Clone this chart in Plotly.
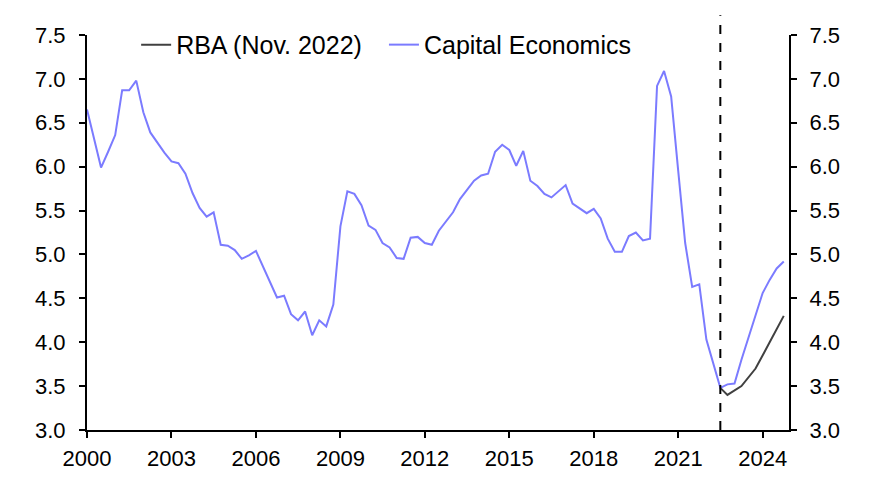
import pandas as pd
import plotly.graph_objects as go

# Capital Economics series (quarterly, 2000Q1 - 2024Q4), unemployment rate %
ce_values = [
    6.65, 6.32, 5.99, 6.17, 6.36, 6.87, 6.87, 6.98, 6.62, 6.39,
    6.27, 6.16, 6.06, 6.04, 5.92, 5.70, 5.53, 5.43, 5.48, 5.11,
    5.10, 5.05, 4.95, 4.99, 5.04, 4.86, 4.69, 4.51, 4.53, 4.32,
    4.25, 4.35, 4.08, 4.25, 4.18, 4.43, 5.32, 5.72, 5.69, 5.56,
    5.33, 5.28, 5.13, 5.08, 4.96, 4.95, 5.19, 5.20, 5.13, 5.11,
    5.27, 5.37, 5.48, 5.63, 5.73, 5.84, 5.90, 5.92, 6.17, 6.25,
    6.19, 6.01, 6.18, 5.84, 5.78, 5.69, 5.65, 5.72, 5.79, 5.58,
    5.53, 5.47, 5.52, 5.41, 5.18, 5.03, 5.03, 5.21, 5.25, 5.16,
    5.18, 6.92, 7.09, 6.80, 5.95, 5.13, 4.63, 4.66, 4.03, 3.76,
    3.48, 3.52, 3.53, 3.80, 4.05, 4.33, 4.56, 4.71, 4.84, 4.92,
]
ce_dates = pd.date_range("2000-01-01", periods=len(ce_values), freq="QS")

# RBA (Nov. 2022) forecast
rba_dates = ["2022-07-01", "2022-10-01", "2023-04-01", "2023-10-01", "2024-04-01", "2024-10-01"]
rba_values = [3.48, 3.40, 3.50, 3.70, 4.00, 4.30]

forecast_start = "2022-07-01"
x_tick_start = "2000-01-01"
x_range = ["2000-01-01", "2024-12-08"]
y_range = [3.0, 7.5]

FONT = "Liberation Sans, Arial, sans-serif"

fig = go.Figure()
fig.add_trace(go.Scatter(
    x=rba_dates, y=rba_values, mode="lines", name="RBA (Nov. 2022)",
    line=dict(color="#404040", width=2), legend="legend",
))
fig.add_trace(go.Scatter(
    x=ce_dates, y=ce_values, mode="lines", name="Capital Economics",
    line=dict(color="#7B7BFF", width=2), legend="legend2",
))
# invisible trace to activate the right-hand axis
fig.add_trace(go.Scatter(
    x=rba_dates, y=rba_values, mode="lines", yaxis="y2", showlegend=False,
    line=dict(color="rgba(0,0,0,0)", width=0), hoverinfo="skip",
))

fig.add_shape(
    type="line", xref="x", yref="paper",
    x0=forecast_start, x1=forecast_start, y0=0, y1=1.05,
    line=dict(color="black", width=2, dash="dash"),
)

axis_common = dict(
    showgrid=False, zeroline=False, showline=True, linecolor="black", linewidth=2,
    ticks="outside", ticklen=6, tickwidth=2, tickcolor="black",
    tickfont=dict(family=FONT, size=22, color="black"),
)

legend_common = dict(
    orientation="h", y=0.975, xanchor="left", yanchor="middle",
    bgcolor="rgba(0,0,0,0)", font=dict(family=FONT, size=25, color="black"),
    itemwidth=30,
)

fig.update_layout(
    width=867, height=479,
    margin=dict(l=79, r=86, t=27, b=57),
    paper_bgcolor="white", plot_bgcolor="white",
    showlegend=True,
    legend=dict(x=0.07, **legend_common),
    legend2=dict(x=0.423, **legend_common),
    xaxis=dict(
        type="date", range=x_range, tick0=x_tick_start, dtick="M36",
        tickformat="%Y", ticklabelstandoff=2, **axis_common,
    ),
    yaxis=dict(range=y_range, dtick=0.5, tickformat=".1f", side="left",
               ticklabelstandoff=9, **axis_common),
    yaxis2=dict(range=y_range, dtick=0.5, tickformat=".1f", side="right",
                overlaying="y", ticklabelstandoff=8, **axis_common),
)

fig.write_html("out.html")
